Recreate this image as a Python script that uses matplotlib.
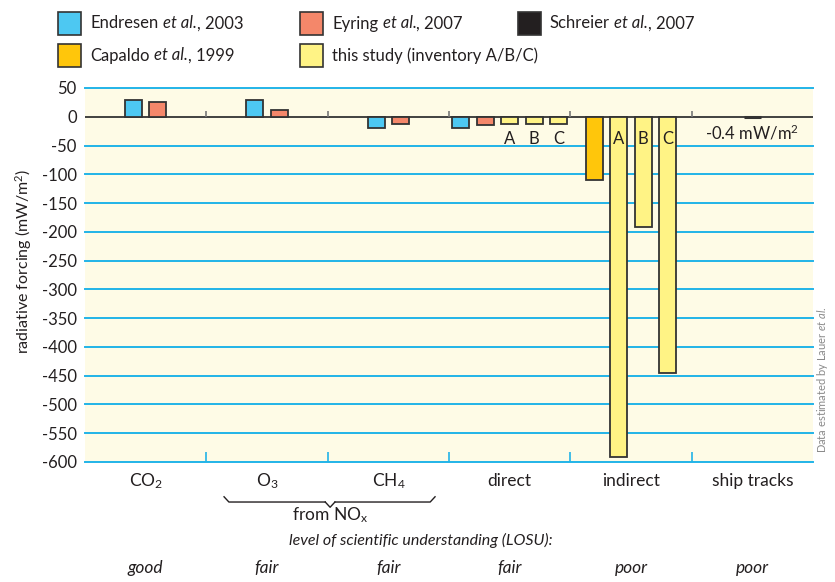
'''Radiative forcing of shipping emissions, several studies compared.'''

import numpy as np
import matplotlib
matplotlib.use('Agg')
import matplotlib.pyplot as plt
from matplotlib.patches import Rectangle
from matplotlib.transforms import blended_transform_factory

# Categories and LOSU
categories=['CO$_2$', 'O$_3$', 'CH$_4$', 'direct', 'indirect', 'ship tracks']
losu=['good', 'fair', 'fair', 'fair', 'poor', 'poor']

# Forcing values in mW/m2 (nan = not given)
endresen=[30, 30, -20, -20, np.nan, np.nan]
eyring=[26, 11, -13, -14, np.nan, np.nan]
schreier=[np.nan, np.nan, np.nan, np.nan, np.nan, -0.4]
capaldo=[np.nan, np.nan, np.nan, np.nan, -110, np.nan]
this_study=[np.nan, np.nan, np.nan, [-12, -12, -12], [-591, -191, -445], np.nan]
inventories=['A', 'B', 'C']

# Colours
C_END='#4DC8F2'
C_EYR='#F4876A'
C_SCH='#231F20'
C_CAP='#FFC60B'
C_THIS='#FFF385'
C_GRID='#22B4E8'
C_BG='#FEFBE6'
EDGE='#333333'
TXT='#231F20'

plt.rcParams['font.family']=['Lato', 'DejaVu Sans']
plt.rcParams['mathtext.fontset']='custom'
plt.rcParams['mathtext.rm']='Lato'
plt.rcParams['mathtext.it']='Lato:italic'

W, H=835, 582
fig=plt.figure(figsize=(W/100, H/100), dpi=100)
ax=fig.add_axes([85/W, 1-462/H, 728/W, 374/H])
ax.set_facecolor(C_BG)

# Build bar groups per category
STEP=0.203
WIDTH=0.14
for i in range(len(categories)):
    bars=[]
    if not np.isnan(endresen[i]):
        bars.append((endresen[i], C_END, ''))
    if not np.isnan(eyring[i]):
        bars.append((eyring[i], C_EYR, ''))
    if not np.isnan(schreier[i]):
        bars.append((schreier[i], C_SCH, ''))
    if not np.isnan(capaldo[i]):
        bars.append((capaldo[i], C_CAP, ''))
    if isinstance(this_study[i], list):
        for v, lab in zip(this_study[i], inventories):
            bars.append((v, C_THIS, lab))
    n=len(bars)
    for k, (v, col, lab) in enumerate(bars):
        x=i+0.5+(k-(n-1)/2)*STEP
        # tiny bars get a thicker outline so they stay visible on the zero line
        lw=2.2 if abs(v)<1 else 1.3
        ax.bar(x, v, width=WIDTH, color=col, edgecolor=EDGE, linewidth=lw, zorder=3)
        if lab:
            ax.text(x, -38, lab, ha='center', va='center', fontsize=12, color=TXT, zorder=4)

ax.text(5.5, -28, '-0.4 mW/m$^2$', ha='center', va='center', fontsize=12, color=TXT)

# Gridlines and zero line
ax.set_xlim(0, 6)
ax.set_ylim(-600, 50)
yt=np.arange(-600, 51, 50)
for y in yt:
    if y!=0:
        ax.axhline(y, color=C_GRID, linewidth=1.4, zorder=1, clip_on=False)
ax.axhline(0, color='#333333', linewidth=1.3, zorder=2)
ax.vlines([1, 2, 3, 4, 5], 0, 10, color='#777777', linewidth=1.2, zorder=2)

for s in ax.spines.values():
    s.set_visible(False)

ax.set_yticks(yt)
ax.set_yticklabels([str(v) for v in yt], fontsize=12)
ax.tick_params(axis='y', length=0, pad=6, colors=TXT)
ax.set_xticks([1, 2, 3, 4, 5])
ax.set_xticklabels([])
ax.tick_params(axis='x', direction='in', length=7, width=1.2, color=C_GRID)
ax.set_ylabel('radiative forcing (mW/m$^2$)', fontsize=11.5, color=TXT)
ax.yaxis.set_label_coords(-0.07, 0.535)

# Category labels below the axes
trans=blended_transform_factory(ax.transData, ax.transAxes)
for i, (cat, l) in enumerate(zip(categories, losu)):
    ax.text(i+0.5, -0.051, cat, transform=trans, ha='center', va='center', fontsize=12.5, color=TXT)
    ax.text(i+0.5, -0.283, l, transform=trans, ha='center', va='center', fontsize=12.5,
            style='italic', color=TXT)

ax.text(2.77, -0.209, 'level of scientific understanding (LOSU):', transform=trans,
        ha='center', va='center', fontsize=11.5, style='italic', color=TXT)

# Brace under O3 and CH4
x0, x1, xm=1.146, 2.885, 2.02
yb_top, yb_mid, yb_tip=-0.093, -0.107, -0.121
bx=[x0, x0+0.04, xm-0.04, xm, xm+0.04, x1-0.04, x1]
by=[yb_top, yb_mid, yb_mid, yb_tip, yb_mid, yb_mid, yb_top]
for a, b in [(0, 3), (2, 5), (4, 7)]:
    ax.plot(bx[a:b], by[a:b], color=TXT, linewidth=1, transform=trans, clip_on=False)
ax.text(xm, -0.142, 'from NO$_{\\mathrm{x}}$', transform=trans, ha='center', va='center',
        fontsize=12.5, color=TXT)

# Legend drawn by hand at the top, text in parts for the italic "et al."
renderer=fig.canvas.get_renderer()


def rich_text(x_px, y_px, parts, size=12):
    '''Writes normal/italic pieces one after another.'''
    x=x_px
    for s, style, gap in parts:
        t=fig.text(x/W, 1-y_px/H, s, style=style, fontsize=size, ha='left', va='center', color=TXT)
        x+=t.get_window_extent(renderer=renderer).width+gap


legend=[([('Endresen', 'normal', 4.5), ('et al.', 'italic', 0), (', 2003', 'normal', 0)], C_END, 58, 12),
        ([('Eyring', 'normal', 4.5), ('et al.', 'italic', 0), (', 2007', 'normal', 0)], C_EYR, 300, 12),
        ([('Schreier', 'normal', 4.5), ('et al.', 'italic', 0), (', 2007', 'normal', 0)], C_SCH, 518, 12),
        ([('Capaldo', 'normal', 4.5), ('et al.', 'italic', 0), (', 1999', 'normal', 0)], C_CAP, 58, 44),
        ([('this study (inventory A/B/C)', 'normal', 0)], C_THIS, 300, 44)]
for parts, col, px, py in legend:
    fig.patches.append(Rectangle((px/W, 1-(py+23)/H), 23/W, 23/H, transform=fig.transFigure,
                                 facecolor=col, edgecolor=EDGE, linewidth=1.2))
    rich_text(px+32, py+11.5, parts)

# Side note
fig.text(822/W, 1-453/H, 'Data estimated by Lauer $\\mathit{et\\ al.}$', rotation=90,
         ha='center', va='bottom', fontsize=8, color='#8A8A8A')

fig.savefig('out.png', dpi=100)
